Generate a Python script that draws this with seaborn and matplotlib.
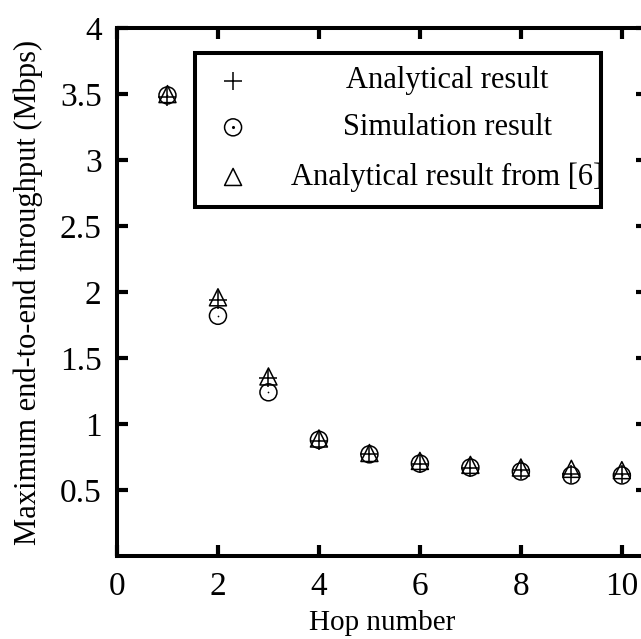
import matplotlib
matplotlib.use("Agg")
import matplotlib.pyplot as plt
import seaborn as sns
import pandas as pd
from matplotlib.patches import Rectangle

# data
hops = [1, 2, 3, 4, 5, 6, 7, 8, 9, 10]
analytical = [3.48, 1.94, 1.35, 0.87, 0.77, 0.70, 0.67, 0.65, 0.62, 0.62]
simulation = [3.49, 1.82, 1.24, 0.88, 0.77, 0.70, 0.67, 0.64, 0.61, 0.61]
analytical_ref6 = [3.50, 1.96, 1.36, 0.89, 0.78, 0.72, 0.69, 0.67, 0.66, 0.65]
labels = ["Analytical result", "Simulation result", "Analytical result from [6]"]
yticks = [0.5, 1, 1.5, 2, 2.5, 3, 3.5, 4]
ytick_labels = ["0.5", "1", "1.5", "2", "2.5", "3", "3.5", "4"]
xticks = [0, 2, 4, 6, 8, 10]

df = pd.DataFrame({"hop": hops, "ana": analytical, "sim": simulation, "ref": analytical_ref6})

sns.set_style("ticks")
plt.rcParams["font.family"] = ["Liberation Serif", "DejaVu Serif"]
plt.rcParams["text.color"] = "k"
plt.rcParams["axes.labelcolor"] = "k"
plt.rcParams["xtick.color"] = "k"
plt.rcParams["ytick.color"] = "k"

fig = plt.figure(figsize=(6.41, 6.39), dpi=100)
ax = fig.add_axes([0.1825, 0.130, 0.827, 0.826])

ms = 150
sns.scatterplot(data=df, x="hop", y="ana", marker="+", color="k", s=ms, linewidth=1.1, ax=ax, zorder=3)
sns.scatterplot(data=df, x="hop", y="sim", marker="o", facecolor="none", edgecolor="k", s=ms, linewidth=1.1, ax=ax, zorder=3)
sns.scatterplot(data=df, x="hop", y="sim", marker="o", color="k", s=1.5, linewidth=0, ax=ax, zorder=3)
sns.scatterplot(data=df, x="hop", y="ref", marker="^", facecolor="none", edgecolor="k", s=ms, linewidth=1.1, ax=ax, zorder=3)

ax.set_xlim(0, 10.5)
ax.set_ylim(0, 4)
ax.set_xticks(xticks)
ax.set_xticklabels([str(t) for t in xticks])
ax.set_yticks(yticks)
ax.set_yticklabels(ytick_labels)
ax.tick_params(direction="in", length=8, width=3, labelsize=24, top=True, right=True,
               pad=11, colors="k")
for s in ax.spines.values():
    s.set_linewidth(2.9)
    s.set_color("k")
ax.set_xlabel("Hop number", fontsize=21, labelpad=6)
ax.set_ylabel("Maximum end-to-end throughput (Mbps)", fontsize=22, labelpad=12)

# legend box drawn by hand so text is centred like the original
ax.add_patch(Rectangle((0.147, 0.661), 0.766, 0.292, transform=ax.transAxes,
                       fill=True, facecolor="white", edgecolor="k", lw=2.9, zorder=4))
rows = [0.900, 0.812, 0.718]
mk = [dict(marker="+", color="k"), dict(marker="o", facecolor="none", edgecolor="k"),
      dict(marker="^", facecolor="none", edgecolor="k")]
for yy, lab, kw in zip(rows, labels, mk):
    ax.scatter([0.219], [yy], s=ms, linewidth=1.1, transform=ax.transAxes, zorder=5, clip_on=False, **kw)
    ax.text(0.623, yy, lab, transform=ax.transAxes, ha="center", va="center", fontsize=22, zorder=5)
ax.scatter([0.219], [rows[1]], s=1.5, color="k", transform=ax.transAxes, zorder=5)

fig.savefig("out.png", dpi=100)
